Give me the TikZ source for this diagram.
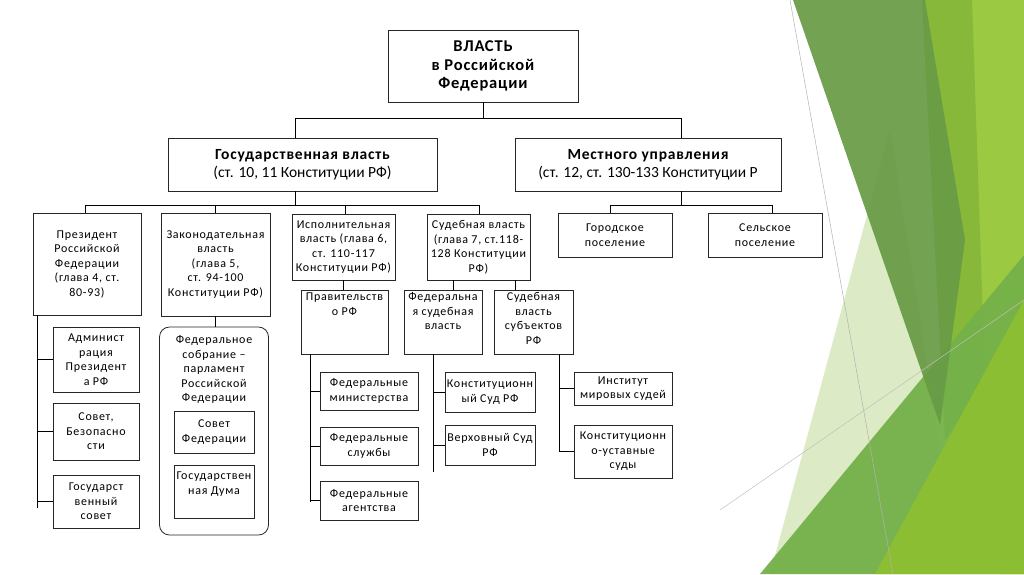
\documentclass[tikz,border=0pt]{standalone}
\usepackage{fontspec}
\setmainfont{Carlito}
\newfontfamily\boxfont[LetterSpace=6]{Carlito}
\newfontfamily\headfont[LetterSpace=5]{Carlito}
\definecolor{leafpale}{HTML}{DCEBC5}
\definecolor{leafmid}{HTML}{74B149}
\definecolor{leafdark}{HTML}{689B45}
\definecolor{leaflime}{HTML}{8EBF32}
\definecolor{leaftop}{HTML}{87B83A}
\definecolor{leaflight}{HTML}{9CC942}
\begin{document}
\begin{tikzpicture}
  [x=1pt,y=-1pt,
   box/.style={draw=black!85,line width=.8pt,fill=white,align=center,inner sep=0.5pt,text=black,
     font=\boxfont\fontsize{12}{14.5}\selectfont},
   head/.style={box,font=\fontsize{15.5}{18}\selectfont},
   toptext/.style={font=\boxfont\fontsize{12}{14.5}\selectfont,align=center,inner sep=3pt,anchor=north},
   wire/.style={line width=.8pt}]
  \useasboundingbox (0,0) rectangle (1024,574);
  % slide background
  \fill[leaflight] (922,0) -- (1024,0) -- (1024,574) -- (1000,574) -- cycle;
  \fill[leaftop] (922,0) -- (972,0) -- (985,380) -- (945,440) -- cycle;
  \fill[leafpale] (770,574) -- (890,130) -- (960,574) -- cycle;
  \fill[leafmid,opacity=.95] (760,574) -- (1024,255) -- (1024,574) -- cycle;
  \fill[leaflime,opacity=.95] (875,574) -- (1024,300) -- (1024,574) -- cycle;
  \fill[leafdark,opacity=.93] (793,0) -- (925,0) -- (965,240) -- (940,425) -- cycle;
  \draw[gray!60,line width=.5pt] (790,0) -- (893,574);
  \draw[gray!50,line width=.5pt] (720,510) -- (1024,300);

  \node[head,minimum width=190,minimum height=72,font=\headfont\bfseries\fontsize{16.5}{18.5}\selectfont]
    (vlast) at (483,66) {ВЛАСТЬ\\в Российской\\Федерации};
  \node[head,minimum width=269,minimum height=53] (gos) at (302.5,164.5)
    {{\headfont\bfseries Государственная власть}\\(ст. 10, 11 Конституции РФ)};
  \node[head,minimum width=266,minimum height=53] (mest) at (648,164.5)
    {{\headfont\bfseries Местного управления}\\(ст. 12, ст. 130-133 Конституции Р};

  \node[box,minimum width=108,minimum height=102] (prez) at (87,264)
    {Президент\\Российской\\Федерации\\(глава 4, ст.\\80-93)};
  \node[box,minimum width=109,minimum height=103] (zakon) at (215.5,264.5)
    {Законодательная\\власть\\(глава 5,\\ст. 94-100\\Конституции РФ)};
  \node[box,minimum width=103,minimum height=66] (isp) at (343.5,247)
    {Исполнительная\\власть (глава 6,\\ст. 110-117\\Конституции РФ)};
  \node[box,minimum width=103,minimum height=66] (sud) at (478.5,247)
    {Судебная власть\\(глава 7, ст.118-\\128 Конституции\\РФ)};
  \node[box,minimum width=114,minimum height=44] (gorod) at (615,235) {Городское\\поселение};
  \node[box,minimum width=114,minimum height=44] (selsk) at (765,235) {Сельское\\поселение};

  \node[box,minimum width=86,minimum height=65] (adm) at (96,359.5) {Админист\\рация\\Президент\\а РФ};
  \node[box,minimum width=86,minimum height=57] (sovbez) at (96,431.5) {Совет,\\Безопасно\\сти};
  \node[box,minimum width=86,minimum height=53] (gossov) at (96,501.5) {Государст\\венный\\совет};

  \node[box,rounded corners=10pt,minimum width=109,minimum height=208,
    label={[toptext,yshift=-6pt]north:{Федеральное\\собрание –\\парламент\\Российской\\Федерации}}]
    (fedsob) at (214,431) {};
  \node[box,minimum width=80,minimum height=42] (sovfed) at (214,432) {Совет\\Федерации};
  \node[box,minimum width=80,minimum height=53,
    label={[toptext,yshift=-4pt]north:{Государствен\\ная Дума}}] (gosduma) at (214,491.5) {};

  \node[box,minimum width=87,minimum height=64,
    label={[toptext]north:{Правительств\\о РФ}}] (prav) at (344.5,322) {};
  \node[box,minimum width=98,minimum height=38] (minist) at (369,391) {Федеральные\\министерства};
  \node[box,minimum width=98,minimum height=38] (sluzh) at (369,446) {Федеральные\\службы};
  \node[box,minimum width=98,minimum height=39] (agent) at (369,500.5) {Федеральные\\агентства};

  \node[box,minimum width=78,minimum height=64,
    label={[toptext]north:{Федеральна\\я судебная\\власть}}] (fedsud) at (443,322) {};
  \node[box,minimum width=79,minimum height=64,
    label={[toptext]north:{Судебная\\власть\\субъектов\\РФ}}] (subsud) at (533.5,322) {};
  \node[box,minimum width=90,minimum height=40] (konstsud) at (490,392) {Конституционн\\ый Суд РФ};
  \node[box,minimum width=90,minimum height=40] (verhsud) at (490,445) {Верховный Суд\\РФ};
  \node[box,minimum width=98,minimum height=33] (mirsud) at (623,388.5) {Институт\\мировых судей};
  \node[box,minimum width=98,minimum height=53] (ustsud) at (623,451.5) {Конституционн\\о-уставные\\суды};

  \coordinate (j0) at (483,118);
  \coordinate (jl) at (295,118);
  \coordinate (jr) at (681,118);
  \coordinate (p1) at (85,205);
  \coordinate (p2) at (215,205);
  \coordinate (p3) at (345,205);
  \coordinate (p4) at (479,205);
  \coordinate (m1) at (610,205);
  \coordinate (m2) at (772,205);
  \coordinate (s1) at (453,285);
  \coordinate (s2) at (515,285);
  \coordinate (pt) at (37,508);
  \coordinate (rt) at (310,502);
  \coordinate (ft) at (433,472);
  \coordinate (st) at (559,452);

  \begin{scope}[wire]
  \draw (vlast) -- (j0);
  \draw (jl) -- (jr);
  \draw (jl) -- (jl |- gos.north);
  \draw (jr) -- (jr |- mest.north);
  \draw (jl |- gos.south) -- (jl |- p1);
  \draw (jr |- mest.south) -- (jr |- m1);
  \draw (p1) -- (p4);
  \draw (m1) -- (m2);
  \foreach \j/\n in {p1/prez,p2/zakon,p3/isp,p4/sud,m1/gorod,m2/selsk}
    \draw (\j) -- (\j |- \n.north);
  \draw (zakon.south) -- (zakon.south |- fedsob.north);
  \draw (isp.south) -- (isp.south |- prav.north);
  \draw (s1 |- sud.south) -- (s1 |- fedsud.north);
  \draw (s2 |- sud.south) -- (s2 |- subsud.north);
  \foreach \t/\n in {pt/prez,rt/prav,ft/fedsud,st/subsud}
    \draw (\t |- \n.south) -- (\t);
  \foreach \t/\n in {pt/adm,pt/sovbez,pt/gossov,rt/minist,rt/sluzh,rt/agent,ft/konstsud,ft/verhsud,st/mirsud,st/ustsud}
    \draw (\t |- \n.west) -- (\n.west);
  \end{scope}
\end{tikzpicture}
\end{document}
